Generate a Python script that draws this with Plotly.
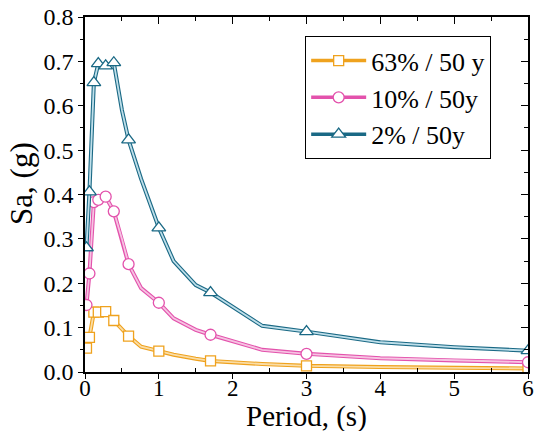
import plotly.graph_objects as go

# Data
period = [0.02, 0.06, 0.12, 0.18, 0.28, 0.39, 0.50, 0.59, 0.76, 1.0, 1.2, 1.5, 1.7, 2.4, 3.0, 4.0, 5.0, 6.0]
has_marker = [1, 1, 1, 1, 1, 1, 0, 1, 0, 1, 0, 0, 1, 0, 1, 0, 0, 1]
sa_63 = [0.054, 0.078, 0.135, 0.135, 0.136, 0.116, 0.097, 0.081, 0.057, 0.047, 0.039, 0.030, 0.025, 0.018, 0.014, 0.011, 0.009, 0.008]
sa_10 = [0.151, 0.222, 0.383, 0.388, 0.395, 0.362, 0.300, 0.243, 0.189, 0.156, 0.121, 0.095, 0.084, 0.050, 0.041, 0.031, 0.026, 0.022]
sa_2 = [0.280, 0.406, 0.652, 0.695, 0.690, 0.697, 0.590, 0.523, 0.435, 0.325, 0.250, 0.196, 0.179, 0.104, 0.091, 0.067, 0.056, 0.048]
names = ["63% / 50 y", "10% / 50y", "2% / 50y"]
x_title = "Period, (s)"
y_title = "Sa, (g)"

series = [
    (sa_63, names[0], "#EFA21E", "#FADDA6", "square", 10),
    (sa_10, names[1], "#E352AC", "#F6C3E2", "circle", 11),
    (sa_2, names[2], "#1A6985", "#BFDFEA", "triangle-up", 12),
]

FONT = "Liberation Serif, Times New Roman, Times, serif"
fig = go.Figure()

for vals, name, dark, light, sym, msize in series:
    fig.add_trace(go.Scatter(x=period, y=vals, mode="lines", showlegend=False,
                             line=dict(color=dark, width=4.0), hoverinfo="skip"))
    fig.add_trace(go.Scatter(x=period, y=vals, mode="lines", showlegend=False,
                             line=dict(color=light, width=1.8), hoverinfo="skip"))
    mx = [p for p, f in zip(period, has_marker) if f]
    my = [v for v, f in zip(vals, has_marker) if f]
    fig.add_trace(go.Scatter(x=mx, y=my, mode="markers", showlegend=False,
                             marker=dict(symbol=sym, size=msize, color="white",
                                         line=dict(color=dark, width=1.3))))

for vals, name, dark, light, sym, msize in series:
    fig.add_trace(go.Scatter(x=[None], y=[None], mode="lines+markers", name=name,
                             legendgroup=name,
                             line=dict(color=dark, width=3.5),
                             marker=dict(symbol=sym, size=msize, color="white",
                                         line=dict(color=dark, width=1.3))))

# invisible traces for the extra tick axes
fig.add_trace(go.Scatter(x=[None], y=[None], xaxis="x2", yaxis="y2", showlegend=False))
fig.add_trace(go.Scatter(x=[None], y=[None], xaxis="x3", yaxis="y", showlegend=False))

axis_common = dict(showgrid=False, zeroline=False, linecolor="black", linewidth=1.5,
                   tickcolor="black", tickwidth=1.3, automargin=False)

fig.update_layout(
    width=540, height=431,
    margin=dict(l=85, r=12, t=17, b=59),
    paper_bgcolor="white", plot_bgcolor="white",
    font=dict(family=FONT, color="black"),
    # bottom axis: labels + inside minor ticks (major outside ticks drawn by xaxis3)
    xaxis=dict(range=[0, 6], dtick=1, ticks="", ticklabelstandoff=-5,
               minor=dict(dtick=0.5, ticks="inside", ticklen=4, tickcolor="black", tickwidth=1.3),
               tickfont=dict(size=23, family=FONT),
               **axis_common),
    xaxis3=dict(range=[0, 6], dtick=1, overlaying="x", side="bottom", anchor="y",
                ticks="outside", ticklen=5, showticklabels=False, **axis_common),
    yaxis=dict(range=[0, 0.8], dtick=0.1, tickformat=".1f", ticks="outside", ticklen=5,
               minor=dict(dtick=0.05, ticks="outside", ticklen=3, tickcolor="black", tickwidth=1.3),
               tickfont=dict(size=24, family=FONT),
               **axis_common),
    xaxis2=dict(range=[0, 6], dtick=1, overlaying="x", side="top", anchor="y2",
                ticks="inside", ticklen=7, showticklabels=False,
                minor=dict(dtick=0.5, ticks="inside", ticklen=4, tickcolor="black", tickwidth=1.3),
                **axis_common),
    yaxis2=dict(range=[0, 0.8], dtick=0.1, overlaying="y", side="right", anchor="x2",
                ticks="inside", ticklen=7, showticklabels=False,
                minor=dict(dtick=0.05, ticks="inside", ticklen=4, tickcolor="black", tickwidth=1.3),
                **axis_common),
    legend=dict(x=0.497, y=0.946, xanchor="left", yanchor="top",
                bgcolor="white", bordercolor="black", borderwidth=1,
                font=dict(size=26, family=FONT), itemwidth=55,
                traceorder="grouped", tracegroupgap=0),
    annotations=[
        dict(text=x_title, xref="paper", yref="paper", x=0.5, y=-0.124,
             xanchor="center", yanchor="middle", showarrow=False,
             font=dict(size=29, family=FONT)),
        dict(text=y_title, xref="paper", yref="paper", x=-0.142, y=0.53,
             xanchor="center", yanchor="middle", showarrow=False, textangle=-90,
             font=dict(size=31, family=FONT)),
    ],
)

fig.write_html("out.html")
